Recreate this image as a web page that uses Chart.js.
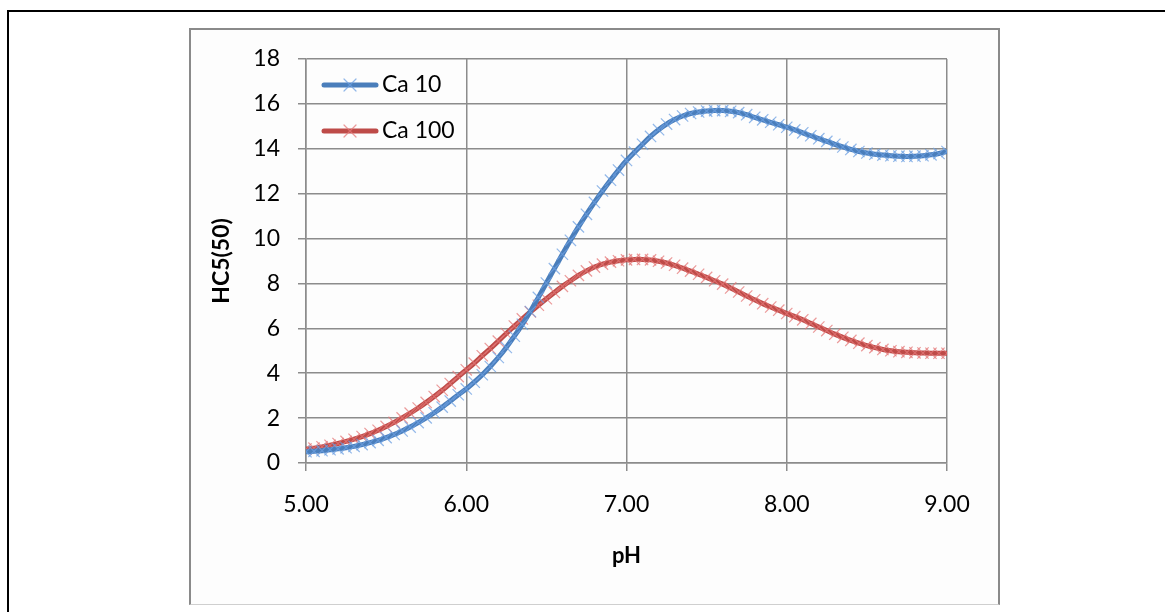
<!DOCTYPE html>
<html>
<head>
<meta charset="utf-8">
<script src="https://cdn.jsdelivr.net/npm/chart.js@4/dist/chart.umd.min.js"></script>
<style>
  html, body { margin: 0; padding: 0; background: #ffffff; width: 1165px; height: 612px; overflow: hidden; }
  #outer { position: absolute; left: 7px; top: 10px; width: 1300px; height: 800px; border: 2px solid #000; box-sizing: border-box; }
  #inner { position: absolute; left: 189px; top: 28px; width: 811px; height: 577px; box-sizing: border-box;
           border-left: 2px solid #8a8a8a; border-top: 2px solid #8a8a8a; border-right: 2px solid #8a8a8a; border-bottom: 1px solid #cfcfcf; background: #fdfdfd; }
  #c { position: absolute; left: 0; top: 0; }
</style>
</head>
<body>
<div id="outer"></div>
<div id="inner"></div>
<canvas id="c" width="1165" height="612"></canvas>
<script>
const seriesNames = ['Ca 10', 'Ca 100'];
const xTitle = 'pH';
const yTitle = 'HC5(50)';
const xTickLabels = ['5.00', '6.00', '7.00', '8.00', '9.00'];
const yTickLabels = ['0', '2', '4', '6', '8', '10', '12', '14', '16', '18'];

const pH = [
  5.00, 5.05, 5.10, 5.15, 5.20, 5.25, 5.30, 5.35, 5.40, 5.45,
  5.50, 5.55, 5.60, 5.65, 5.70, 5.75, 5.80, 5.85, 5.90, 5.95,
  6.00, 6.05, 6.10, 6.15, 6.20, 6.25, 6.30, 6.35, 6.40, 6.45,
  6.50, 6.55, 6.60, 6.65, 6.70, 6.75, 6.80, 6.85, 6.90, 6.95,
  7.00, 7.05, 7.10, 7.15, 7.20, 7.25, 7.30, 7.35, 7.40, 7.45,
  7.50, 7.55, 7.60, 7.65, 7.70, 7.75, 7.80, 7.85, 7.90, 7.95,
  8.00, 8.05, 8.10, 8.15, 8.20, 8.25, 8.30, 8.35, 8.40, 8.45,
  8.50, 8.55, 8.60, 8.65, 8.70, 8.75, 8.80, 8.85, 8.90, 8.95,
  9.00
];

const ca10 = [
  0.50, 0.52, 0.55, 0.59, 0.63, 0.68, 0.74, 0.82, 0.91, 1.01,
  1.13, 1.27, 1.43, 1.60, 1.80, 2.01, 2.24, 2.49, 2.76, 3.04,
  3.30, 3.60, 3.93, 4.30, 4.70, 5.15, 5.65, 6.18, 6.75, 7.38,
  8.02, 8.66, 9.30, 9.92, 10.52, 11.08, 11.61, 12.12, 12.60, 13.05,
  13.48, 13.85, 14.20, 14.55, 14.85, 15.10, 15.30, 15.46, 15.57, 15.64,
  15.68, 15.70, 15.70, 15.67, 15.61, 15.52, 15.40, 15.29, 15.18, 15.07,
  14.96, 14.84, 14.71, 14.58, 14.45, 14.33, 14.20, 14.08, 13.97, 13.88,
  13.81, 13.76, 13.72, 13.69, 13.67, 13.66, 13.67, 13.69, 13.73, 13.79,
  13.88
];

const ca100 = [
  0.62, 0.66, 0.72, 0.79, 0.87, 0.96, 1.06, 1.18, 1.31, 1.46,
  1.63, 1.81, 2.01, 2.22, 2.45, 2.70, 2.96, 3.24, 3.54, 3.85,
  4.15, 4.45, 4.78, 5.10, 5.43, 5.77, 6.10, 6.42, 6.73, 7.03,
  7.32, 7.60, 7.87, 8.12, 8.36, 8.56, 8.73, 8.86, 8.95, 9.01,
  9.05, 9.07, 9.07, 9.05, 8.99, 8.91, 8.81, 8.68, 8.55, 8.41,
  8.27, 8.12, 7.97, 7.80, 7.62, 7.44, 7.27, 7.10, 6.95, 6.81,
  6.66, 6.52, 6.38, 6.22, 6.06, 5.90, 5.74, 5.60, 5.46, 5.34,
  5.23, 5.14, 5.06, 5.00, 4.96, 4.93, 4.91, 4.90, 4.89, 4.89,
  4.89
];

const lineColors = ['#4a7ebb', '#be4b48'];
const markerColors = ['rgba(110,160,225,0.75)', 'rgba(228,120,120,0.75)'];
const FONT = 'Lato, "Open Sans", sans-serif';

function toXY(xs, ys) { return xs.map((x, i) => ({ x: x, y: ys[i] })); }

const legendPlugin = {
  id: 'insideLegend',
  afterDraw(chart) {
    const ctx = chart.ctx;
    const rows = [85, 131];
    chart.data.datasets.forEach((ds, i) => {
      const y = rows[i];
      ctx.save();
      ctx.strokeStyle = ds.borderColor;
      ctx.lineWidth = 5;
      ctx.lineCap = 'round';
      ctx.beginPath();
      ctx.moveTo(324, y);
      ctx.lineTo(376, y);
      ctx.stroke();
      ctx.strokeStyle = ds.pointBorderColor;
      ctx.lineWidth = 1.2;
      const r = 6;
      ctx.beginPath();
      ctx.moveTo(350 - r, y - r); ctx.lineTo(350 + r, y + r);
      ctx.moveTo(350 - r, y + r); ctx.lineTo(350 + r, y - r);
      ctx.stroke();
      ctx.fillStyle = '#000';
      ctx.font = '23px ' + FONT;
      ctx.textAlign = 'left';
      ctx.textBaseline = 'middle';
      ctx.fillText(ds.label, 382, y);
      ctx.restore();
    });
  }
};

function makeDataset(i, ys) {
  return {
    label: seriesNames[i],
    data: toXY(pH, ys),
    borderColor: lineColors[i],
    borderWidth: 5,
    pointStyle: 'crossRot',
    pointRadius: 8,
    pointBorderWidth: 1.2,
    pointBorderColor: markerColors[i],
    pointBackgroundColor: markerColors[i],
    tension: 0.3,
    fill: false
  };
}

new Chart(document.getElementById('c'), {
  type: 'line',
  data: { datasets: [makeDataset(0, ca10), makeDataset(1, ca100)] },
  options: {
    responsive: false,
    animation: false,
    devicePixelRatio: 1,
    layout: { padding: { left: 190, top: 59, right: 218, bottom: 8 } },
    plugins: { legend: { display: false }, tooltip: { enabled: false } },
    scales: {
      x: {
        type: 'linear',
        min: 5, max: 9,
        afterFit(scale) { scale.height = 141; },
        afterBuildTicks(scale) { scale.ticks = xTickLabels.map(t => ({ value: parseFloat(t) })); },
        ticks: {
          callback: (v) => xTickLabels.find(t => parseFloat(t) === v) || '',
          color: '#000', font: { family: FONT, size: 23 }, padding: 20, maxRotation: 0, autoSkip: false
        },
        grid: { color: '#8c8c8c', lineWidth: 1.5, tickLength: 8, drawTicks: true },
        border: { color: '#8c8c8c', width: 1.5 },
        title: { display: true, text: xTitle, color: '#000', font: { family: FONT, size: 22, weight: 'bold' }, padding: { top: 0, bottom: 35 } }
      },
      y: {
        type: 'linear',
        min: 0, max: 18,
        afterFit(scale) { scale.width = 116; },
        afterBuildTicks(scale) { scale.ticks = yTickLabels.map(t => ({ value: parseFloat(t) })); },
        ticks: {
          callback: (v) => yTickLabels.find(t => parseFloat(t) === v) || '',
          color: '#000', font: { family: FONT, size: 23 }, padding: 18, autoSkip: false
        },
        grid: { color: '#8c8c8c', lineWidth: 1.5, tickLength: 8, drawTicks: true },
        border: { color: '#8c8c8c', width: 1.5 },
        title: { display: true, text: yTitle, color: '#000', font: { family: FONT, size: 23, weight: 'bold' }, padding: { top: 18, bottom: 0 } }
      }
    }
  },
  plugins: [legendPlugin]
});
</script>
</body>
</html>
